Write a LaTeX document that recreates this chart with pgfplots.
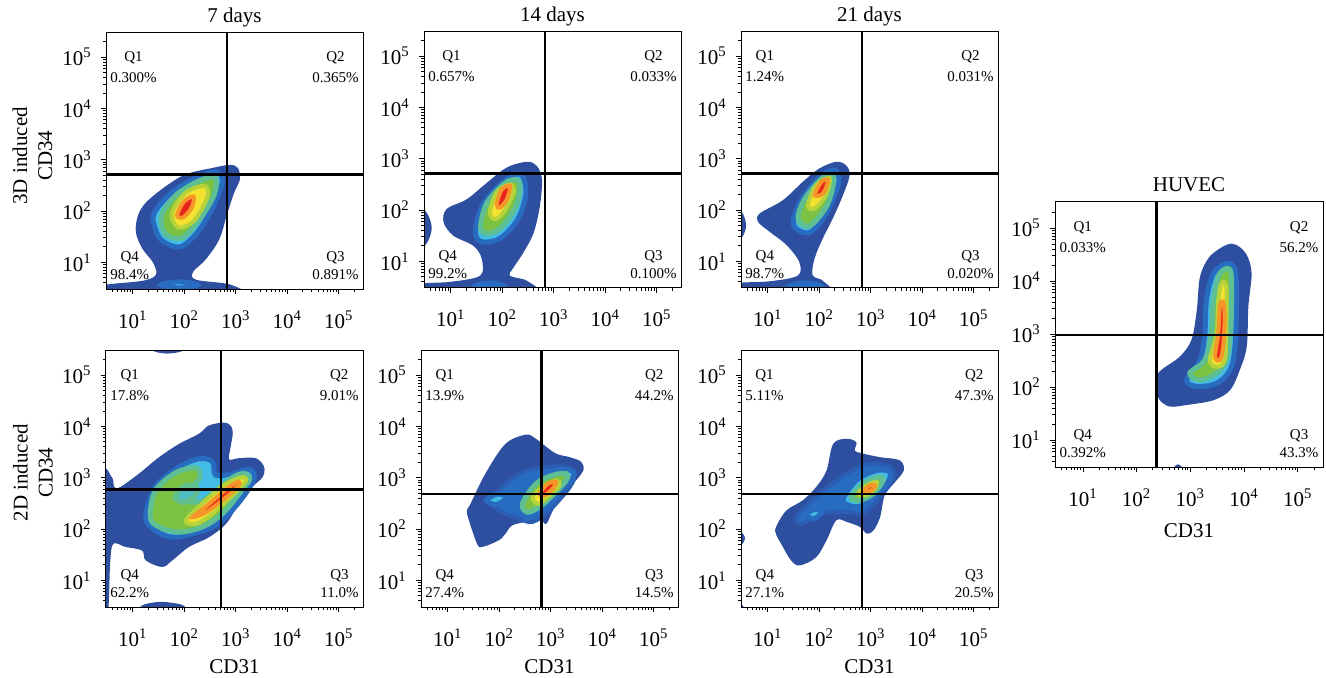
\documentclass[border=0pt]{standalone}
\usepackage{fontspec}
\setmainfont{Liberation Serif}
\usepackage{pgfplots}
\pgfplotsset{compat=1.18}

\definecolor{fA}{RGB}{46,78,160}
\definecolor{fB}{RGB}{40,108,194}
\definecolor{fC}{RGB}{66,188,230}
\definecolor{fG}{RGB}{124,194,66}
\definecolor{fY}{RGB}{244,226,48}
\definecolor{fO}{RGB}{246,150,40}
\definecolor{fR}{RGB}{232,36,30}

\newcommand\lab{\fontsize{10.5}{12.5}\selectfont}
\newcommand\qfont{\fontsize{7.5}{9}\selectfont}

% quadrant labels
\newcommand\quads[4]{%
  \node[qt,anchor=north west] at (rel axis cs:0.008,0.935) {Q1\\[1.5pt]#1\%};
  \node[qt,anchor=north east] at (rel axis cs:0.992,0.935) {Q2\\[1.5pt]#2\%};
  \node[qt,anchor=south west] at (rel axis cs:0.008,0.027) {Q4\\[0pt]#3\%};
  \node[qt,anchor=south east] at (rel axis cs:0.992,0.027) {Q3\\[0pt]#4\%};}

\tikzset{qt/.style={font=\qfont, align=center, inner sep=1pt}}

\pgfplotsset{
  fc/.style={
    scale only axis, width=128.5pt, height=128pt,
    xmin=0.48, xmax=5.47, ymin=0.48, ymax=5.47,
    xtick={1,2,3,4,5}, ytick={1,2,3,4,5},
    xticklabels={10\textsuperscript{1},10\textsuperscript{2},10\textsuperscript{3},10\textsuperscript{4},10\textsuperscript{5}},
    yticklabels={10\textsuperscript{1},10\textsuperscript{2},10\textsuperscript{3},10\textsuperscript{4},10\textsuperscript{5}},
    minor xtick={0.602,0.699,0.778,0.845,0.903,0.954,1.301,1.477,1.602,1.699,1.778,1.845,1.903,1.954,2.301,2.477,2.602,2.699,2.778,2.845,2.903,2.954,3.301,3.477,3.602,3.699,3.778,3.845,3.903,3.954,4.301,4.477,4.602,4.699,4.778,4.845,4.903,4.954,5.301},
    minor ytick={0.602,0.699,0.778,0.845,0.903,0.954,1.301,1.477,1.602,1.699,1.778,1.845,1.903,1.954,2.301,2.477,2.602,2.699,2.778,2.845,2.903,2.954,3.301,3.477,3.602,3.699,3.778,3.845,3.903,3.954,4.301,4.477,4.602,4.699,4.778,4.845,4.903,4.954,5.301},
    tick align=outside, xtick pos=left, ytick pos=left,
    major tick length=2.5pt, minor tick length=1.5pt,
    tick style={black, line width=0.4pt},
    axis line style={black, line width=0.5pt},
    axis on top,
    ticklabel style={font=\lab},
    xticklabel style={anchor=base, inner sep=0pt, yshift=-17pt},
    yticklabel style={anchor=east, inner sep=0pt, xshift=-4.5pt},
    title style={at={(0.5,1)}, anchor=base, yshift=-1pt, font=\lab},
    xlabel style={at={(axis description cs:0.5,0)}, anchor=base, yshift=-33pt, font=\lab},
    ylabel style={anchor=center, align=center, font=\lab},
  },
  lA/.style={fill=fA, draw=none, smooth cycle, tension=0.55},
  lB/.style={fill=fB, draw=fB!55!fA, line width=2pt, smooth cycle, tension=0.55},
  lC/.style={fill=fC, draw=fB, line width=2.5pt, smooth cycle, tension=0.55},
  lP/.style={fill=fC!80!fG, draw=fC!45!fG, line width=2.5pt, smooth cycle, tension=0.55},
  lG/.style={fill=fG, draw=fC!50!fG, line width=2.5pt, smooth cycle, tension=0.55},
  lY/.style={fill=fY, draw=fG!50!fY, line width=2pt, smooth cycle, tension=0.55},
  lR/.style={fill=fR, draw=fO, line width=2pt, smooth cycle, tension=0.55},
  gate/.style={black, line width=1.1pt},
}

\begin{document}
\begin{tikzpicture}
\path[use as bounding box] (0,0) rectangle (663pt,-339pt);

% ---------- 3D, 7 days
\begin{axis}[fc, at={(53pt,-144.5pt)}, title={7 days},
  ylabel={3D induced\\CD34}, ylabel style={at={(axis description cs:-0.286,0.52)}}]
\addplot[lA] coordinates {(2.55,2.84) (2.88,2.90) (3.04,2.84) (3.08,2.62) (2.97,2.36) (2.84,1.97) (2.68,1.45) (2.42,1.06) (2.17,0.81) (2.23,0.66) (2.88,0.57) (2.96,0.40) (0.40,0.40) (0.40,0.55) (1.19,0.64) (1.45,0.76) (1.39,1.00) (1.19,1.26) (1.06,1.58) (1.10,1.91) (1.26,2.17) (1.65,2.49) (2.04,2.72)};
\addplot[lC] coordinates {(1.55,0.56) (1.90,0.62) (2.25,0.56) (1.90,0.50)};
\addplot[lC] coordinates {(1.42,1.97) (1.78,2.38) (2.29,2.67) (2.62,2.76) (2.74,2.59) (2.57,2.10) (2.25,1.58) (1.91,1.30) (1.56,1.43) (1.42,1.71)};
\addplot[lG] coordinates {(1.56,1.91) (1.84,2.31) (2.29,2.59) (2.60,2.65) (2.57,2.29) (2.25,1.78) (1.94,1.47) (1.63,1.56)};
\addplot[lY] coordinates {(1.76,1.95) (2.02,2.35) (2.40,2.49) (2.44,2.25) (2.18,1.80) (1.88,1.68)};
\addplot[lR] coordinates {(1.86,1.92) (1.99,2.18) (2.18,2.28) (2.14,2.06) (1.97,1.87)};
\addplot[gate] coordinates {(2.825,0.48) (2.825,5.47)};
\addplot[gate] coordinates {(0.48,2.71) (5.47,2.71)};
\quads{0.300}{0.365}{98.4}{0.891}
\end{axis}

% ---------- 3D, 14 days
\begin{axis}[fc, at={(212pt,-144pt)}, title={14 days}]
\addplot[lA] coordinates {(2.48,2.94) (2.67,2.86) (2.77,2.60) (2.73,2.08) (2.61,1.56) (2.41,1.17) (2.22,0.88) (2.15,0.72) (2.48,0.62) (2.55,0.40) (0.40,0.40) (0.40,0.56) (0.99,0.60) (1.57,0.72) (1.60,1.05) (1.44,1.30) (1.05,1.50) (0.86,1.76) (0.92,2.02) (1.31,2.21) (1.70,2.53) (2.09,2.83)};
\addplot[lA] coordinates {(0.40,1.27) (0.55,1.38) (0.63,1.65) (0.55,1.92) (0.40,2.02)};
\addplot[lC] coordinates {(1.50,0.53) (1.76,0.58) (2.00,0.53) (1.76,0.48)};
\addplot[lC] coordinates {(1.48,1.56) (1.61,2.08) (2.02,2.55) (2.35,2.70) (2.46,2.34) (2.30,1.82) (1.96,1.45) (1.61,1.38)};
\addplot[lG] coordinates {(1.58,1.69) (1.71,2.15) (2.09,2.55) (2.33,2.54) (2.27,2.08) (1.96,1.64) (1.68,1.54)};
\addplot[lY] coordinates {(1.76,1.95) (1.89,2.34) (2.15,2.50) (2.22,2.34) (2.02,1.95) (1.86,1.82)};
\addplot[lR] coordinates {(1.89,2.11) (1.99,2.40) (2.15,2.47) (2.09,2.21) (1.96,2.05)};
\addplot[gate] coordinates {(2.825,0.48) (2.825,5.47)};
\addplot[gate] coordinates {(0.48,2.71) (5.47,2.71)};
\quads{0.657}{0.033}{99.2}{0.100}
\end{axis}

% ---------- 3D, 21 days
\begin{axis}[fc, at={(370.5pt,-144pt)}, title={21 days}]
\addplot[lA] coordinates {(2.33,2.94) (2.52,2.87) (2.59,2.68) (2.46,2.29) (2.26,1.83) (2.07,1.45) (1.91,1.06) (1.87,0.73) (2.07,0.62) (2.12,0.40) (0.40,0.40) (0.40,0.57) (1.03,0.61) (1.58,0.72) (1.61,0.99) (1.36,1.32) (1.03,1.58) (0.81,1.77) (0.84,1.93) (1.29,2.19) (1.68,2.55) (2.00,2.81)};
\addplot[lA] coordinates {(0.40,1.38) (0.52,1.50) (0.58,1.70) (0.52,1.92) (0.40,2.03)};
\addplot[lC] coordinates {(1.45,0.53) (1.72,0.58) (2.00,0.53) (1.72,0.48)};
\addplot[lC] coordinates {(1.50,1.71) (1.63,2.16) (2.00,2.63) (2.29,2.78) (2.38,2.55) (2.15,1.96) (1.81,1.56)};
\addplot[lG] coordinates {(1.59,1.83) (1.72,2.22) (2.07,2.63) (2.28,2.62) (2.15,2.09) (1.81,1.69)};
\addplot[lY] coordinates {(1.78,2.09) (1.94,2.48) (2.20,2.62) (2.13,2.29) (1.91,2.03)};
\addplot[lR] coordinates {(1.91,2.29) (2.04,2.55) (2.17,2.58) (2.07,2.32)};
\addplot[gate] coordinates {(2.83,0.48) (2.83,5.47)};
\addplot[gate] coordinates {(0.48,2.71) (5.47,2.71)};
\quads{1.24}{0.031}{98.7}{0.020}
\end{axis}

% ---------- 2D, 7 days
\begin{axis}[fc, at={(53pt,-303.5pt)}, xlabel={CD31},
  ylabel={2D induced\\CD34}, ylabel style={at={(axis description cs:-0.284,0.525)}}]
\addplot[lA] coordinates {(0.76,2.82) (1.12,3.08) (1.51,3.40) (1.90,3.66) (2.29,3.86) (2.48,4.02) (2.81,4.07) (2.94,3.92) (2.90,3.60) (2.87,3.36) (3.06,3.38) (3.39,3.38) (3.55,3.21) (3.52,3.01) (3.32,2.82) (3.06,2.49) (2.81,2.10) (2.48,1.84) (2.09,1.65) (1.77,1.39) (1.57,1.26) (1.25,1.39) (1.18,1.58) (0.86,1.65) (0.62,1.71) (0.56,1.32) (0.52,0.40) (0.40,0.40) (0.40,3.01) (0.60,3.00) (0.64,2.82)};
\addplot[lA] coordinates {(1.38,5.60) (1.40,5.47) (1.67,5.42) (1.96,5.47) (1.98,5.60)};
\addplot[lA] coordinates {(1.18,0.40) (1.20,0.52) (1.55,0.58) (1.96,0.52) (1.98,0.40)};
\addplot[lC] coordinates {(1.25,2.23) (1.44,2.82) (1.90,3.21) (2.29,3.37) (2.55,3.31) (2.61,3.05) (2.94,3.08) (3.26,3.16) (3.36,3.01) (3.19,2.69) (2.87,2.30) (2.55,2.04) (2.16,1.91) (1.77,1.84) (1.44,1.97)};
\addplot[lG] coordinates {(1.34,2.23) (1.44,2.75) (1.84,3.10) (2.23,3.19) (2.30,3.00) (2.12,2.78) (2.05,2.55) (2.35,2.55) (2.70,2.82) (2.98,3.03) (3.19,3.08) (3.26,2.95) (3.06,2.69) (2.74,2.30) (2.35,2.04) (1.90,1.94) (1.51,2.04)};
\addplot[lP] coordinates {(1.82,2.62) (2.00,2.84) (2.24,2.82) (2.20,2.63) (1.98,2.52)};
\addplot[lY] coordinates {(2.03,2.17) (2.42,2.56) (2.81,2.88) (3.13,3.01) (3.19,2.92) (2.94,2.66) (2.55,2.30) (2.23,2.10)};
\addplot[lR] coordinates {(2.16,2.23) (2.48,2.49) (2.87,2.82) (3.06,2.92) (3.03,2.82) (2.74,2.56) (2.42,2.33)};
\addplot[gate] coordinates {(2.71,0.48) (2.71,5.47)};
\addplot[gate] coordinates {(0.48,2.77) (5.47,2.77)};
\quads{17.8}{9.01}{62.2}{11.0}
\end{axis}

% ---------- 2D, 14 days
\begin{axis}[fc, at={(210.5pt,-303.5pt)}, xlabel={CD31}]
\addplot[lA] coordinates {(1.44,2.49) (1.73,3.08) (2.12,3.66) (2.52,3.84) (2.71,3.76) (2.84,3.66) (3.10,3.47) (3.37,3.40) (3.59,3.31) (3.63,3.14) (3.43,2.88) (3.24,2.69) (3.04,2.36) (2.91,2.10) (2.78,2.20) (2.52,2.14) (2.25,2.07) (2.12,1.91) (1.99,1.78) (1.67,1.65) (1.57,1.71) (1.41,2.17) (1.37,2.36)};
\addplot[lB] coordinates {(1.86,2.56) (2.12,2.88) (2.52,3.14) (2.91,3.21) (3.30,3.21) (3.46,3.08) (3.37,2.82) (2.97,2.36) (2.65,2.14) (2.39,2.20) (2.00,2.36)};
\addplot[lC] coordinates {(1.75,2.55) (1.95,2.68) (2.15,2.62) (1.95,2.48)};
\addplot[lC] coordinates {(2.39,2.49) (2.65,2.95) (3.04,3.14) (3.40,3.14) (3.43,3.01) (3.17,2.69) (2.84,2.36) (2.52,2.23)};
\addplot[lG] coordinates {(2.45,2.49) (2.71,2.88) (3.04,3.05) (3.30,3.08) (3.30,2.95) (3.04,2.66) (2.78,2.43) (2.55,2.33)};
\addplot[lY] coordinates {(2.65,2.62) (2.84,2.82) (3.10,2.95) (3.17,2.85) (2.94,2.62) (2.75,2.49)};
\addplot[lR] coordinates {(2.78,2.69) (2.94,2.88) (3.10,2.92) (3.04,2.79) (2.88,2.66)};
\addplot[gate] coordinates {(2.82,0.48) (2.82,5.47)};
\addplot[gate] coordinates {(0.48,2.69) (5.47,2.69)};
\quads{13.9}{44.2}{27.4}{14.5}
\end{axis}

% ---------- 2D, 21 days
\begin{axis}[fc, at={(370.5pt,-303.5pt)}, xlabel={CD31}]
\addplot[lA] coordinates {(1.16,2.04) (1.36,2.36) (1.68,2.56) (1.94,2.82) (2.14,3.14) (2.27,3.66) (2.53,3.76) (2.72,3.69) (2.69,3.53) (2.85,3.47) (3.18,3.40) (3.56,3.34) (3.64,3.14) (3.44,2.88) (3.27,2.66) (3.18,2.23) (3.05,1.97) (2.92,1.91) (2.79,2.04) (2.53,2.14) (2.33,2.17) (2.14,1.78) (1.94,1.45) (1.62,1.29) (1.45,1.39) (1.26,1.71) (1.16,1.90)};
\addplot[lA] coordinates {(0.40,1.62) (0.50,1.70) (0.56,1.82) (0.50,1.93) (0.40,1.99)};
\addplot[lA] coordinates {(0.40,0.40) (0.40,0.56) (0.52,0.50) (0.55,0.40)};
\addplot[lB] coordinates {(1.55,2.23) (2.01,2.69) (2.53,3.08) (2.98,3.27) (3.37,3.21) (3.44,3.01) (3.18,2.62) (2.85,2.30) (2.53,2.33) (2.01,2.30) (1.68,2.10)};
\addplot[lC] coordinates {(1.75,2.28) (1.90,2.38) (2.05,2.33) (1.90,2.20)};
\addplot[lC] coordinates {(2.46,2.56) (2.72,2.95) (3.11,3.14) (3.37,3.11) (3.31,2.88) (2.98,2.56) (2.72,2.43)};
\addplot[lG] coordinates {(2.62,2.62) (2.85,2.88) (3.14,3.01) (3.24,2.95) (3.05,2.69) (2.79,2.56)};
\addplot[lY] coordinates {(2.75,2.69) (2.92,2.85) (3.11,2.92) (3.08,2.79) (2.92,2.66)};
\addplot[lR] coordinates {(2.84,2.72) (2.98,2.85) (3.08,2.85) (3.01,2.75)};
\addplot[gate] coordinates {(2.83,0.48) (2.83,5.47)};
\addplot[gate] coordinates {(0.48,2.69) (5.47,2.69)};
\quads{5.11}{47.3}{27.1}{20.5}
\end{axis}

% ---------- HUVEC
\begin{axis}[fc, at={(527.5pt,-233.5pt)}, width=134pt, height=132.5pt,
  ymin=0.49, ymax=5.49, title={HUVEC}, xlabel={CD31},
  xlabel style={yshift=-2pt}]
\addplot[lA] coordinates {(2.40,2.26) (2.80,2.57) (3.02,2.89) (3.12,3.45) (3.18,4.08) (3.36,4.46) (3.67,4.68) (3.86,4.68) (4.05,4.49) (4.14,4.14) (4.08,3.52) (4.05,2.76) (3.92,2.32) (3.74,1.94) (3.43,1.75) (2.93,1.66) (2.62,1.63) (2.43,1.75) (2.37,1.94)};
\addplot[lA] coordinates {(2.70,0.49) (2.77,0.54) (2.84,0.49) (2.77,0.44)};
\addplot[lC] coordinates {(2.93,2.13) (3.18,2.51) (3.27,3.01) (3.30,3.64) (3.43,4.14) (3.67,4.33) (3.83,4.21) (3.86,3.64) (3.83,2.76) (3.74,2.32) (3.49,2.07) (3.12,2.01)};
\addplot[lG] coordinates {(2.99,2.26) (3.27,2.51) (3.39,3.01) (3.43,3.64) (3.55,4.14) (3.74,4.21) (3.77,3.77) (3.74,2.95) (3.67,2.51) (3.49,2.26) (3.18,2.13)};
\addplot[lY] coordinates {(3.36,2.51) (3.49,3.01) (3.52,3.64) (3.58,3.96) (3.67,3.89) (3.67,3.14) (3.64,2.51) (3.49,2.38)};
\addplot[lR] coordinates {(3.46,2.57) (3.52,3.01) (3.55,3.52) (3.61,3.61) (3.64,3.33) (3.61,2.76) (3.55,2.51)};
\addplot[gate] coordinates {(2.37,0.49) (2.37,5.49)};
\addplot[gate] coordinates {(0.48,2.98) (5.47,2.98)};
\quads{0.033}{56.2}{0.392}{43.3}
\end{axis}
\end{tikzpicture}
\end{document}
